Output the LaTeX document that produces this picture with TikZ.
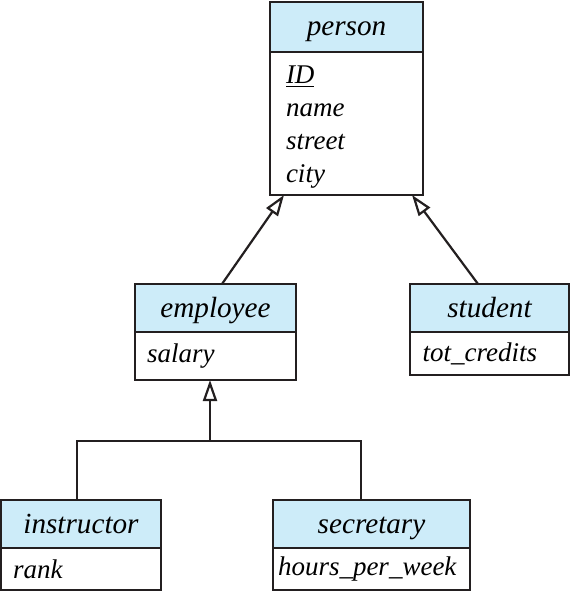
\documentclass[tikz,border=0pt]{standalone}
\usepackage{fontspec}
\setmainfont{Liberation Serif}[ItalicFont={Liberation Serif Italic}]
\usetikzlibrary{arrows.meta,positioning,calc}
\definecolor{enteteUML}{RGB}{205,236,249}
\definecolor{traitUML}{RGB}{35,31,32}
\newcommand{\fontentete}{\fontsize{14.6}{17}\selectfont\itshape}
\newcommand{\fontattr}{\fontsize{13.5}{16.5}\selectfont\itshape}

\begin{document}
\begin{tikzpicture}[x=0.5pt,y=-0.5pt,
        entete/.style={draw=traitUML,fill=enteteUML,line width=1.1pt,inner sep=0pt,outer sep=0pt,
          text height=11pt,text depth=2pt,
          minimum height=24pt,anchor=north west,font=\fontentete},
        attr/.style={draw=traitUML,fill=white,line width=1.1pt,inner ysep=0pt,inner xsep=6pt,
          outer sep=0pt,align=left,anchor=north west,font=\fontattr},
        lien/.style={draw=traitUML,line width=1.1pt},
        herite/.style={lien,-{Triangle[open,length=10.5pt,width=7pt,line width=1.1pt]}}
      ]
        \useasboundingbox (0,0) rectangle (573,593);

        % Classe mère
        \node[entete,minimum width=76.5pt,minimum height=25pt] (perH) at (270,2) {person};
        \node[attr,text width=60.5pt,inner xsep=8pt,minimum height=71.5pt] (perA)
          at (perH.south west) {\rule{0pt}{12.5pt}\underline{ID}\\name\\street\\city};

        % Sous-classes de premier niveau
        \node[entete,minimum width=80.5pt] (empH) at (135,284) {employee};
        \node[attr,text width=68.5pt,minimum height=24pt] (empA)
          at (empH.south west) {salary};

        \node[entete,minimum width=79.5pt] (stuH) at (410,284) {student};
        \node[attr,text width=67pt,inner xsep=6.25pt,minimum height=21.5pt] (stuA)
          at (stuH.south west) {tot\_credits};

        % Sous-classes de second niveau
        \node[entete,minimum width=80pt] (insH) at (1,500) {instructor};
        \node[attr,text width=68pt,minimum height=21pt] (insA)
          at (insH.south west) {rank};

        \node[entete,minimum width=98.5pt] (secH) at (273,500) {secretary};
        \node[attr,text width=93.5pt,inner xsep=2.5pt,minimum height=21pt] (secA)
          at (secH.south west) {hours\_per\_week};

        % Généralisations
        \draw[herite] ([xshift=3.25pt]empH.north) -- ([xshift=-31.25pt]perA.south);
        \draw[herite] ([xshift=-5.75pt]stuH.north) -- ([xshift=32.75pt]perA.south);

        \coordinate (jn) at ([xshift=-2.75pt,yshift=-30.5pt]empA.south);
        \draw[herite] (jn) -- ([xshift=-2.75pt]empA.south);
        \draw[lien] ([xshift=-2pt]insH.north) |- (jn) -| ([xshift=-5.25pt]secH.north);
      \end{tikzpicture}
\end{document}
